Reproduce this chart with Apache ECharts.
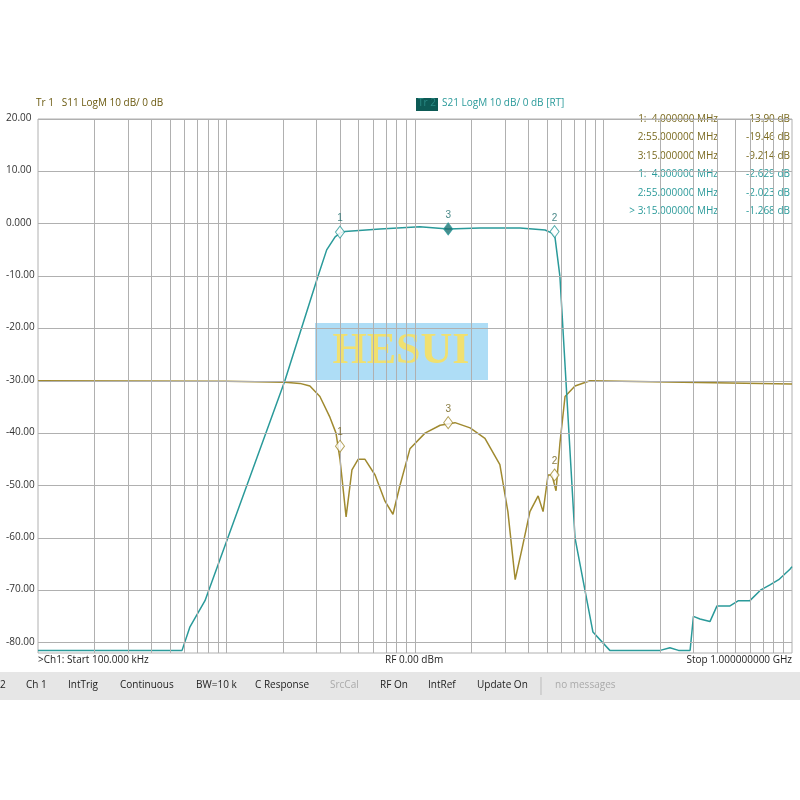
<!DOCTYPE html>
<html><head><meta charset="utf-8">
<script src="https://cdn.jsdelivr.net/npm/echarts@6/dist/echarts.min.js"></script>
<style>html,body{margin:0;padding:0;background:#fff}#c{width:800px;height:800px}</style>
</head><body><div id="c"></div>
<script>
const s21Freq = [0.1,0.581,0.64,0.769,2.04,3.06,3.4,3.77,4.0,4.25,6.52,10.6,15,22.1,36.1,49.0,53.3,55.3,58.7,63.2,70.6,87.9,108,200,225,250,288,300,325,367,400,469,520,598,680,764,850,975,1000];
const s21Val  = [-81.5,-81.5,-77,-72,-30,-10,-5,-2.5,-1.8,-1.5,-1.0,-0.6,-1.0,-0.8,-0.8,-1.2,-1.8,-2.6,-10,-30,-60,-78,-81.5,-81.5,-81,-81.5,-81.5,-75,-75.5,-76,-73,-73,-72,-72,-70,-69,-68,-66,-65.5];
const s11Freq = [0.1,1,2.04,2.45,2.77,3.13,3.54,3.81,4.0,4.31,4.63,4.99,5.43,6.14,6.93,7.64,8.32,9.4,11.3,13.6,16.3,19.6,23.5,28.2,31.1,34.0,37.0,40.7,45.0,47.8,50.8,53.3,56.0,58.7,62.5,70.6,84.7,1000];
const s11Val  = [-30,-30.1,-30.3,-30.5,-31,-33,-37,-40,-45,-56,-47,-45,-45,-48,-53,-55.5,-50,-43,-40,-38.5,-38,-39,-41,-46,-55,-68,-62,-55,-52,-55,-48,-48,-51,-42,-33,-31,-30,-30.6];
const mkFreq = [4, 55, 15];
const mkS21 = [-1.6, -1.5, -1.0];
const mkS11 = [-42.5, -48, -38];
const yTicks = [20,10,0,-10,-20,-30,-40,-50,-60,-70,-80];
const yLabels = ['20.00','10.00','0.000','-10.00','-20.00','-30.00','-40.00','-50.00','-60.00','-70.00','-80.00'];
const table = [
 ['1:  4.000000 MHz','-13.90 dB','#7a6a20'],
 ['2:55.000000 MHz','-19.46 dB','#7a6a20'],
 ['3:15.000000 MHz','-9.214 dB','#7a6a20'],
 ['1:  4.000000 MHz','-2.629 dB','#2a9a9a'],
 ['2:55.000000 MHz','-2.023 dB','#2a9a9a'],
 ['> 3:15.000000 MHz','-1.268 dB','#2a9a9a']];
const status = [['2',0],['Ch 1',26],['IntTrig',68],['Continuous',120],['BW=10 k',196],['C Response',255],['SrcCal',330],['RF On',380],['IntRef',428],['Update On',477],['no messages',555]];

const vGrid = [];
[0.1,1,10,100].forEach(d=>{for(let k=2;k<=9;k++)vGrid.push(d*k);});
[1,10,100].forEach(v=>vGrid.push(v));
const G = '#b0b0b0';
const olive = '#a08a30', teal = '#2a9a9a';
const chart = echarts.init(document.getElementById('c'));
const graphic = [
 {type:'text',left:36,top:98,style:{text:'Tr 1   S11 LogM 10 dB/ 0 dB',fill:'#6b5a10',font:'10px "Open Sans"'}},
 {type:'rect',shape:{x:416,y:98,width:22,height:13},style:{fill:'#0d5a55'}},
 {type:'text',left:418,top:98,style:{text:'Tr 2',fill:'#2a8a85',font:'10px "Open Sans"'}},
 {type:'text',left:442,top:98,style:{text:'S21 LogM 10 dB/ 0 dB [RT]',fill:teal,font:'10px "Open Sans"'}},
 {type:'rect',shape:{x:315,y:323,width:173,height:57},style:{fill:'rgba(160,215,245,0.85)'}},
 {type:'text',x:401,y:352,style:{text:'HESUI',fill:'#f0e070',font:'bold 44px "Liberation Serif"',align:'center',verticalAlign:'middle'}},
 {type:'text',left:38,top:655,style:{text:'>Ch1: Start 100.000 kHz',fill:'#222',font:'10px "Open Sans"'}},
 {type:'text',left:385,top:655,style:{text:'RF 0.00 dBm',fill:'#222',font:'10px "Open Sans"'}},
 {type:'text',right:8,top:655,style:{text:'Stop 1.000000000 GHz',fill:'#222',font:'10px "Open Sans"'}},
 {type:'rect',shape:{x:0,y:672,width:800,height:28},style:{fill:'#e6e6e6'}},
 {type:'line',shape:{x1:541,y1:677,x2:541,y2:695},style:{stroke:'#bbb'}}
];
status.forEach(([t,x])=>graphic.push({type:'text',left:x,top:680,style:{text:t,fill:(t==='SrcCal'||t==='no messages')?'#aaa':'#222',font:'10px "Open Sans"'}}));
table.forEach(([a,b,c],i)=>{
 graphic.push({type:'text',right:82,top:114+i*18.5,style:{text:a,fill:c,font:'10px "Open Sans"',align:'right'}});
 graphic.push({type:'text',right:10,top:114+i*18.5,style:{text:b,fill:c,font:'10px "Open Sans"',align:'right'}});
});
yLabels.forEach((t,i)=>graphic.push({type:'text',left:6,top:119+i*52.4-6,style:{text:t,fill:'#333',font:'10px "Open Sans"'}}));

chart.setOption({
 animation:false,
 grid:{left:38,right:8,top:119,height:534,show:true,borderColor:G,borderWidth:1},
 xAxis:{type:'log',min:0.1,max:1000,logBase:10,axisLabel:{show:false},axisTick:{show:false},axisLine:{show:false},splitLine:{show:false}},
 yAxis:{type:'value',min:-82,max:20,axisLabel:{show:false},axisTick:{show:false},axisLine:{show:false},splitLine:{show:false}},
 graphic,
 series:[
  {type:'line',data:[],markLine:{silent:true,symbol:'none',label:{show:false},lineStyle:{color:G,width:1,type:'solid'},
    data:yTicks.map(v=>({yAxis:v})).concat(vGrid.map(v=>({xAxis:v})))}},
  {type:'line',data:s11Freq.map((f,i)=>[f,s11Val[i]]),symbol:'none',lineStyle:{color:olive,width:1.5},z:3},
  {type:'line',data:s21Freq.map((f,i)=>[f,s21Val[i]]),symbol:'none',lineStyle:{color:teal,width:1.5},z:4},
  {type:'scatter',data:mkFreq.map((f,i)=>[f,mkS11[i]]),symbol:'diamond',symbolSize:[9,12],itemStyle:{color:'#fff',borderColor:olive,borderWidth:1},
    label:{show:true,position:'top',distance:2,formatter:p=>String(p.dataIndex+1),color:'#6b5a10',fontSize:10},z:5},
  {type:'scatter',data:mkFreq.map((f,i)=>[f,mkS21[i]]),symbol:'diamond',symbolSize:[9,12],
    itemStyle:{color:p=>p.dataIndex===2?'#1a7070':'#fff',borderColor:teal,borderWidth:1},
    label:{show:true,position:'top',distance:2,formatter:p=>String(p.dataIndex+1),color:'#1a6a6a',fontSize:10},z:6}
 ]
});
</script></body></html>
